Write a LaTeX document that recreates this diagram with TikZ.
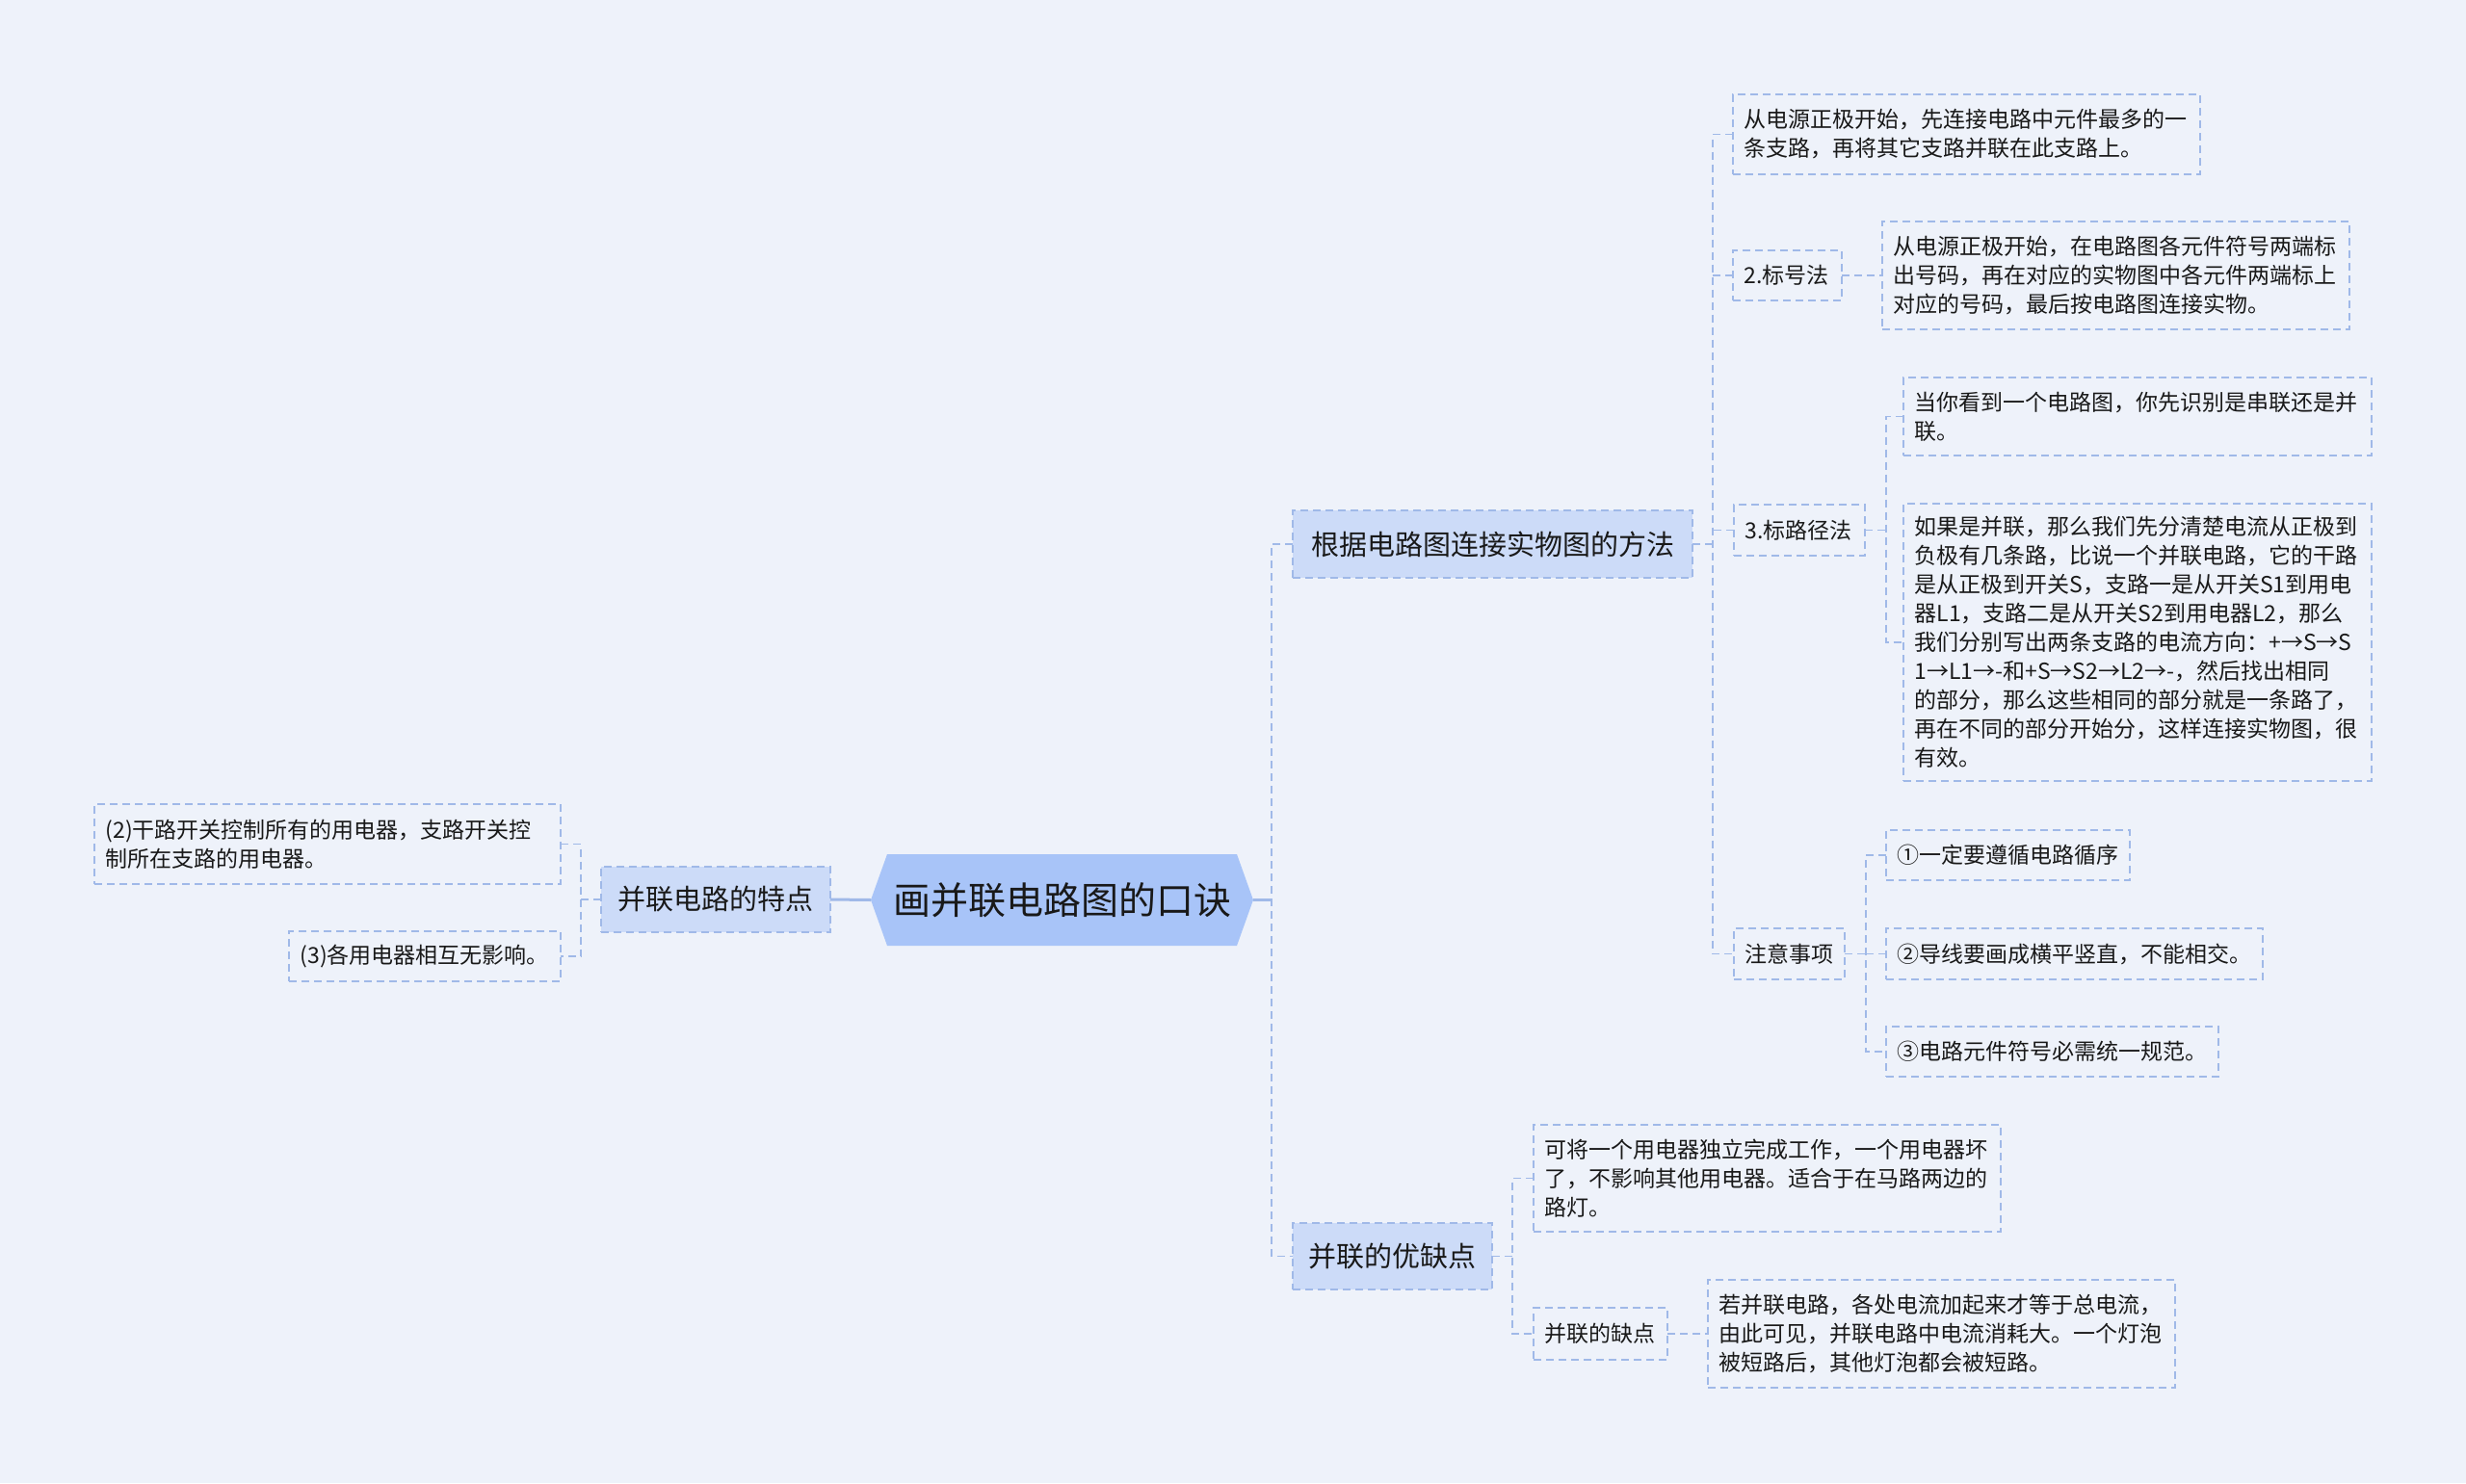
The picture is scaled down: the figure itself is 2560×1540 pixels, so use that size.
\documentclass[tikz,border=0pt]{standalone}
\usepackage{fontspec}
\newfontfamily\cjk{Noto Sans CJK SC}
\usetikzlibrary{backgrounds}
\definecolor{bgc}{RGB}{238,242,250}
\definecolor{lc}{RGB}{160,185,232}
\definecolor{rootfill}{RGB}{168,196,248}
\definecolor{brfill}{RGB}{204,219,248}
\definecolor{tc}{RGB}{25,25,25}
\begin{document}
\begin{tikzpicture}[x=1pt,y=-1pt,
  conn/.style={draw=lc,line width=1.8pt,dash pattern=on 8pt off 5pt},
  solidconn/.style={draw=lc,line width=3pt},
  brbox/.style={draw=lc,line width=1.8pt,dash pattern=on 8pt off 5pt,fill=brfill,
    font=\cjk\fontsize{29}{35}\selectfont,text=tc,inner sep=0pt,outer sep=0pt},
  leaf/.style={draw=lc,line width=1.8pt,dash pattern=on 8pt off 5pt,
    font=\cjk\fontsize{23}{30}\selectfont,text=tc,anchor=west,
    inner xsep=11.5pt,inner ysep=0pt,outer sep=0pt,align=left}]
\useasboundingbox (0,0) rectangle (2560,1540);

% root
\node[font=\cjk\fontsize{39}{47}\selectfont,text=tc,minimum width=397pt,minimum height=95pt,
  inner sep=0pt,outer sep=0pt] (root) at (1102.5,934.5) {画并联电路图的口诀};

% branches
\node[brbox,minimum width=415pt,minimum height=70pt] (B1) at (1549.5,565) {根据电路图连接实物图的方法};
\node[brbox,minimum width=207pt,minimum height=69pt] (B2) at (1445.5,1304.5) {并联的优缺点};
\node[brbox,minimum width=238pt,minimum height=68pt] (B3) at (743,934) {并联电路的特点};

% right-top leaves
\node[leaf,text width=462pt,minimum height=83pt] (A) at (1799,139.5)
  {从电源正极开始，先连接电路中元件最多的一\\条支路，再将其它支路并联在此支路上。};
\node[leaf,text width=90pt,minimum height=52pt] (K2) at (1799,286) {2.标号法};
\node[leaf,text width=462pt,minimum height=112pt] (Bb) at (1954,286)
  {从电源正极开始，在电路图各元件符号两端标\\出号码，再在对应的实物图中各元件两端标上\\对应的号码，最后按电路图连接实物。};
\node[leaf,text width=113pt,minimum height=53pt] (K3) at (1800,550.5) {3.标路径法};
\node[leaf,text width=463pt,minimum height=81pt] (C) at (1976,432.5)
  {当你看到一个电路图，你先识别是串联还是并\\联。};
\node[leaf,text width=463pt,minimum height=288pt] (D) at (1976,667)
  {如果是并联，那么我们先分清楚电流从正极到\\负极有几条路，比说一个并联电路，它的干路\\是从正极到开关S，支路一是从开关S1到用电\\器L1，支路二是从开关S2到用电器L2，那么\\我们分别写出两条支路的电流方向：+→S→S\\1→L1→-和+S→S2→L2→-，然后找出相同\\的部分，那么这些相同的部分就是一条路了，\\再在不同的部分开始分，这样连接实物图，很\\有效。};
\node[leaf,text width=92pt,minimum height=53pt] (K4) at (1800,990.5) {注意事项};
\node[leaf,text width=230pt,minimum height=52pt] (N1) at (1958,888) {①一定要遵循电路循序};
\node[leaf,text width=368pt,minimum height=53pt] (N2) at (1958,990.5) {②导线要画成横平竖直，不能相交。};
\node[leaf,text width=322pt,minimum height=52pt] (N3) at (1958,1092) {③电路元件符号必需统一规范。};

% bottom leaves
\node[leaf,text width=462pt,minimum height=111pt] (E) at (1592,1223.5)
  {可将一个用电器独立完成工作，一个用电器坏\\了，不影响其他用电器。适合于在马路两边的\\路灯。};
\node[leaf,text width=116pt,minimum height=54pt] (F) at (1592,1385) {并联的缺点};
\node[leaf,text width=462pt,minimum height=112pt] (G) at (1773,1385)
  {若并联电路，各处电流加起来才等于总电流，\\由此可见，并联电路中电流消耗大。一个灯泡\\被短路后，其他灯泡都会被短路。};

% left leaves
\node[leaf,text width=461pt,minimum height=83pt] (L2) at (98,876.5)
  {(2)干路开关控制所有的用电器，支路开关控\\制所在支路的用电器。};
\node[leaf,text width=259pt,minimum height=52pt] (L3) at (300,993) {(3)各用电器相互无影响。};

% junctions
\coordinate (jR) at (1320,934.5);
\coordinate (jL) at (603,934);
\coordinate (jB1) at (1778,565);
\coordinate (jK3) at (1958,550.5);
\coordinate (jK4) at (1937,990.5);
\coordinate (jB2) at (1570,1304.5);

% background + root hexagon
\begin{scope}[on background layer]
\fill[bgc] (0,0) rectangle (2560,1540);
\fill[rootfill] (root.west) -- ([xshift=17pt]root.north west) -- ([xshift=-17pt]root.north east)
  -- (root.east) -- ([xshift=-17pt]root.south east) -- ([xshift=17pt]root.south west) -- cycle;
\end{scope}

% connectors
\draw[solidconn] (root.east) -- (jR);
\draw[solidconn] (root.west) -- (B3.east);
\draw[conn] (B1.west) -| (B2.west -| jR) -- (B2.west);

\draw[conn] (B3.west) -- (jL);
\draw[conn] (L2.east) -| (L3.east -| jL) -- (L3.east);

\draw[conn] (B1.east) -- (jB1);
\draw[conn] (A.west) -| (K4.west -| jB1) -- (K4.west);
\draw[conn] (K2.west) -- (K2.west -| jB1);
\draw[conn] (K3.west) -- (K3.west -| jB1);

\draw[conn] (K2.east) -- (Bb.west);

\draw[conn] (K3.east) -- (jK3);
\draw[conn] (C.west) -| (D.west -| jK3) -- (D.west);

\draw[conn] (K4.east) -- (jK4);
\draw[conn] (N1.west) -| (N3.west -| jK4) -- (N3.west);
\draw[conn] (N2.west) -- (N2.west -| jK4);

\draw[conn] (B2.east) -- (jB2);
\draw[conn] (E.west) -| (F.west -| jB2) -- (F.west);
\draw[conn] (F.east) -- (G.west);
\end{tikzpicture}
\end{document}
